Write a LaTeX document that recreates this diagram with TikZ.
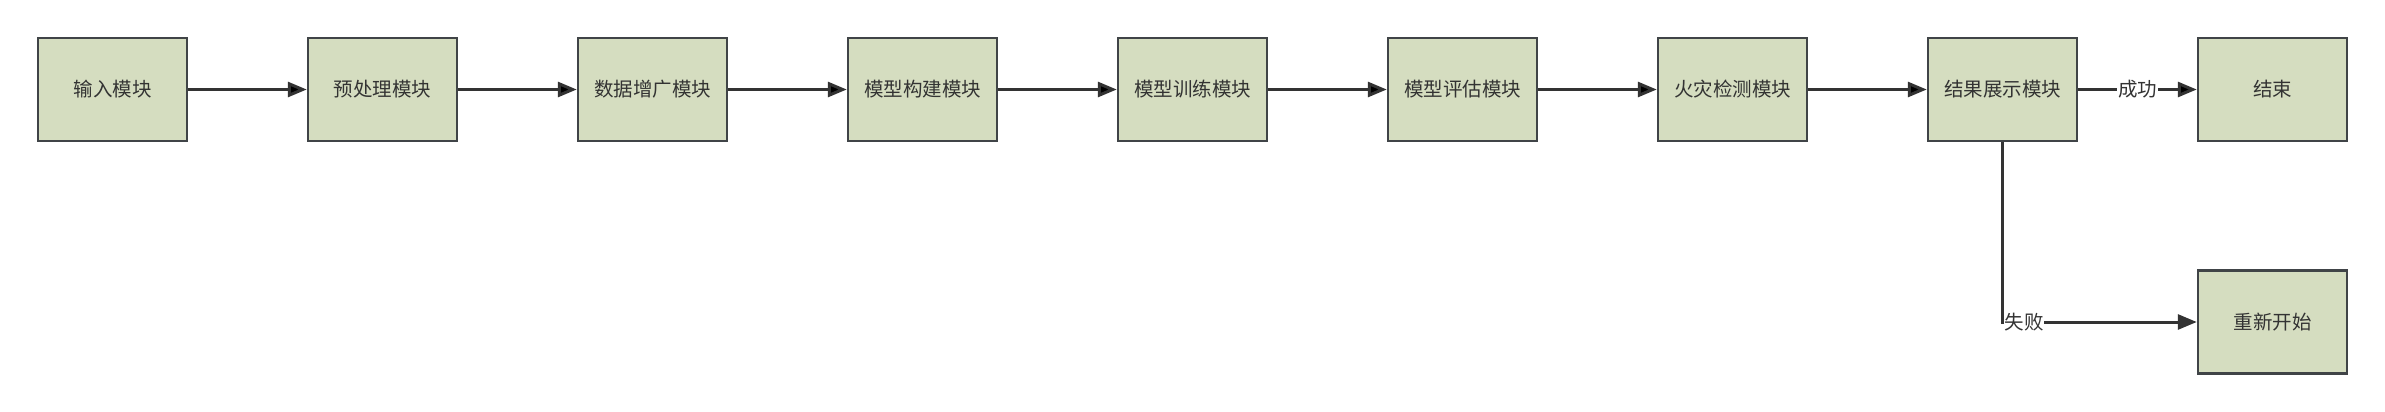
\documentclass[tikz,border=0pt]{standalone}
\usepackage{fontspec}
\setmainfont{Noto Sans CJK SC}
\usetikzlibrary{positioning,arrows.meta}
\definecolor{boxfill}{RGB}{213,221,192}
\definecolor{boxline}{RGB}{64,68,71}
\definecolor{arrowc}{RGB}{51,51,51}

\begin{document}
\begin{tikzpicture}[x=1pt,y=1pt,node distance=270pt,on grid,
        module/.style={draw=boxline,fill=boxfill,line width=2.5pt,minimum width=149pt,minimum height=103pt,
            inner sep=0pt,text=black!80,font=\fontsize{19.5}{23}\selectfont},
        lbl/.style={fill=white,inner sep=1pt,text=arrowc,font=\fontsize{19.5}{23}\selectfont},
        flow/.style={draw=arrowc,line width=3pt,-{Triangle[length=19pt,width=15pt]}}]
        \useasboundingbox (0,0) rectangle (2385,-412);
        \node[module] (m_0) at (112.5,-89.5) {输入模块};
        \node[module] (m_1) [right=of m_0] {预处理模块};
        \node[module] (m_2) [right=of m_1] {数据增广模块};
        \node[module] (m_3) [right=of m_2] {模型构建模块};
        \node[module] (m_4) [right=of m_3] {模型训练模块};
        \node[module] (m_5) [right=of m_4] {模型评估模块};
        \node[module] (m_6) [right=of m_5] {火灾检测模块};
        \node[module] (m_7) [right=of m_6] {结果展示模块};
        \node[module] (m_8) [right=of m_7] {结束};
        \node[module] (m_9) [below=232.5pt of m_8] {重新开始};
        \path[flow]
        (m_0) edge (m_1)
        (m_1) edge (m_2)
        (m_2) edge (m_3)
        (m_3) edge (m_4)
        (m_4) edge (m_5)
        (m_5) edge (m_6)
        (m_6) edge (m_7)
        (m_7) edge node[lbl] {成功} (m_8);
        \draw[flow] (m_7) |- node[lbl,pos=.5,anchor=west,inner sep=0.5pt] {失败} (m_9);
    \end{tikzpicture}
\end{document}
